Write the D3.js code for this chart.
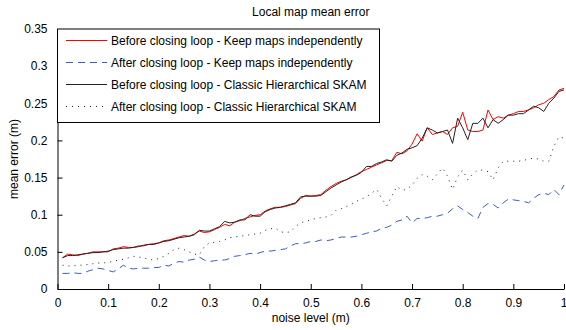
<!DOCTYPE html>
<html>
<head>
<meta charset="utf-8">
<script src="https://cdn.jsdelivr.net/npm/d3@7"></script>
<style>
  body { margin: 0; background: #fff; }
  svg { display: block; font-family: "Liberation Sans", Arial, sans-serif; }
  .tick text { font-size: 12px; fill: #000; }
  .domain, .tick line { stroke: #000; }
</style>
</head>
<body>
<div id="chart"></div>
<script>
"use strict";

// noise level values (0.01 .. 1.00)
var noise = d3.range(1, 101).map(function(i) { return i / 100; });

var beforeKeep = [
  0.042,0.047,0.046,0.045,0.047,0.048,0.050,0.050,0.050,0.050,
  0.054,0.055,0.057,0.056,0.056,0.058,0.058,0.060,0.061,0.062,
  0.065,0.066,0.068,0.070,0.072,0.071,0.074,0.078,0.076,0.077,
  0.080,0.083,0.087,0.085,0.090,0.092,0.095,0.097,0.099,0.100,
  0.105,0.108,0.110,0.110,0.111,0.113,0.115,0.122,0.126,0.125,
  0.126,0.127,0.133,0.138,0.142,0.145,0.147,0.150,0.154,0.158,
  0.161,0.164,0.167,0.170,0.173,0.173,0.184,0.182,0.186,0.195,
  0.209,0.199,0.217,0.208,0.210,0.212,0.208,0.217,0.219,0.238,
  0.214,0.212,0.212,0.214,0.241,0.228,0.232,0.230,0.234,0.236,
  0.239,0.239,0.241,0.244,0.248,0.250,0.255,0.259,0.268,0.270
];

var afterKeep = [
  0.021,0.021,0.022,0.021,0.021,0.024,0.026,0.028,0.027,0.025,
  0.023,0.027,0.032,0.028,0.027,0.028,0.028,0.028,0.029,0.029,
  0.032,0.031,0.035,0.037,0.036,0.039,0.040,0.043,0.039,0.037,
  0.038,0.039,0.039,0.041,0.044,0.045,0.046,0.048,0.047,0.049,
  0.051,0.051,0.052,0.053,0.054,0.058,0.061,0.061,0.062,0.064,
  0.064,0.066,0.065,0.066,0.068,0.070,0.070,0.070,0.071,0.073,
  0.075,0.077,0.078,0.082,0.083,0.086,0.091,0.093,0.098,0.089,
  0.095,0.095,0.096,0.098,0.098,0.100,0.102,0.108,0.112,0.107,
  0.103,0.098,0.095,0.110,0.115,0.114,0.109,0.116,0.121,0.120,
  0.119,0.118,0.116,0.122,0.127,0.129,0.127,0.134,0.127,0.140
];

var beforeClassic = [
  0.042,0.045,0.045,0.046,0.047,0.048,0.049,0.049,0.050,0.051,
  0.053,0.054,0.055,0.055,0.056,0.057,0.059,0.060,0.060,0.062,
  0.064,0.065,0.067,0.069,0.070,0.071,0.073,0.079,0.078,0.078,
  0.081,0.084,0.091,0.089,0.090,0.093,0.093,0.100,0.098,0.098,
  0.104,0.107,0.109,0.110,0.112,0.114,0.116,0.124,0.125,0.125,
  0.125,0.126,0.131,0.136,0.140,0.144,0.147,0.151,0.153,0.157,
  0.165,0.165,0.169,0.171,0.174,0.172,0.180,0.183,0.188,0.190,
  0.193,0.203,0.217,0.214,0.210,0.212,0.214,0.196,0.230,0.217,
  0.201,0.223,0.223,0.230,0.217,0.228,0.223,0.228,0.234,0.234,
  0.236,0.236,0.241,0.246,0.244,0.239,0.250,0.257,0.266,0.268
];

var afterClassic = [
  0.032,0.031,0.031,0.032,0.032,0.033,0.034,0.035,0.035,0.036,
  0.037,0.039,0.040,0.042,0.044,0.043,0.042,0.040,0.039,0.041,
  0.044,0.048,0.053,0.055,0.053,0.050,0.047,0.046,0.057,0.062,
  0.063,0.064,0.066,0.069,0.070,0.071,0.072,0.073,0.074,0.075,
  0.079,0.081,0.082,0.077,0.076,0.077,0.084,0.089,0.091,0.093,
  0.095,0.096,0.097,0.099,0.106,0.108,0.111,0.114,0.118,0.121,
  0.124,0.129,0.134,0.122,0.112,0.125,0.138,0.133,0.134,0.140,
  0.149,0.154,0.152,0.147,0.155,0.163,0.152,0.134,0.151,0.160,
  0.147,0.155,0.160,0.160,0.158,0.147,0.163,0.172,0.172,0.172,
  0.172,0.173,0.175,0.176,0.175,0.172,0.172,0.192,0.205,0.203
];

var seriesNames = [
  "Before closing loop - Keep maps independently",
  "After closing loop - Keep maps independently",
  "Before closing loop - Classic Hierarchical SKAM",
  "After closing loop - Classic Hierarchical SKAM"
];
var seriesColors = ["#ff0000", "#3b5cc4", "#222222", "#222222"];
var seriesDash = [null, "7,5", null, "1,5"];

var xTicks = d3.range(0, 11).map(function(i) { return i / 10; });
var yTicks = d3.range(0, 8).map(function(i) { return i * 0.05; });

var width = 566, height = 330;
var margin = {top: 29, right: 2, bottom: 41, left: 57.5};

var svg = d3.select("#chart").append("svg")
    .attr("width", width)
    .attr("height", height);

var x = d3.scaleLinear()
    .domain([0, 1])
    .range([margin.left, width - margin.right]);

var y = d3.scaleLinear()
    .domain([0, 0.35])
    .range([height - margin.bottom, margin.top]);

// axes, ticks pointing inward like matlab
var xAxis = svg.append("g")
    .attr("transform", "translate(0," + (height - margin.bottom) + ")")
    .call(d3.axisBottom(x)
      .tickValues(xTicks)
      .tickSizeInner(-5)
      .tickSizeOuter(0)
      .tickPadding(9)
      .tickFormat(function(d) { return d3.format("~g")(d); }));

// last label sits at the very edge of the window
xAxis.selectAll(".tick text")
    .filter(function(d) { return d === 1; })
    .attr("text-anchor", "end")
    .attr("dx", "3");

var yAxis = svg.append("g")
    .attr("transform", "translate(" + margin.left + ",0)")
    .call(d3.axisLeft(y)
      .tickValues(yTicks)
      .tickSizeInner(-5)
      .tickSizeOuter(0)
      .tickPadding(10)
      .tickFormat(function(d) { return d3.format("~g")(+d.toFixed(2)); }));

svg.selectAll(".domain").attr("stroke-width", 1);

// lines
var allSeries = [beforeKeep, afterKeep, beforeClassic, afterClassic];

var line = d3.line()
    .x(function(d, i) { return x(noise[i]); })
    .y(function(d) { return y(d); });

svg.append("g")
    .selectAll("path")
    .data(allSeries)
    .enter()
    .append("path")
    .attr("d", line)
    .attr("fill", "none")
    .attr("stroke", function(d, i) { return seriesColors[i]; })
    .attr("stroke-width", 1)
    .attr("stroke-dasharray", function(d, i) { return seriesDash[i]; });

// legend box in the upper-left corner
var legend = svg.append("g")
    .attr("class", "legend");

legend.append("rect")
    .attr("x", margin.left)
    .attr("y", margin.top)
    .attr("width", 322)
    .attr("height", 93.5)
    .attr("fill", "#fff")
    .attr("stroke", "#000")
    .attr("stroke-width", 1);

var items = legend.selectAll("g.item")
    .data(seriesNames)
    .enter()
    .append("g")
    .attr("class", "item")
    .attr("transform", function(d, i) {
      return "translate(0," + (40.5 + i * 22) + ")";
    });

items.append("line")
    .attr("x1", 66)
    .attr("x2", 107)
    .attr("stroke", function(d, i) { return seriesColors[i]; })
    .attr("stroke-dasharray", function(d, i) { return seriesDash[i]; });

items.append("text")
    .attr("x", 111)
    .attr("dy", "0.35em")
    .attr("font-size", "12px")
    .text(function(d) { return d; });

// title and axis labels
svg.append("text")
    .attr("x", (x(0) + x(1)) / 2)
    .attr("y", 16)
    .attr("text-anchor", "middle")
    .attr("font-size", "12px")
    .text("Local map mean error");

svg.append("text")
    .attr("x", (x(0) + x(1)) / 2)
    .attr("y", 322)
    .attr("text-anchor", "middle")
    .attr("font-size", "12px")
    .text("noise level (m)");

svg.append("text")
    .attr("transform", "translate(18," + ((y(0) + y(0.35)) / 2) + ") rotate(-90)")
    .attr("text-anchor", "middle")
    .attr("font-size", "12px")
    .text("mean error (m)");
</script>
</body>
</html>
